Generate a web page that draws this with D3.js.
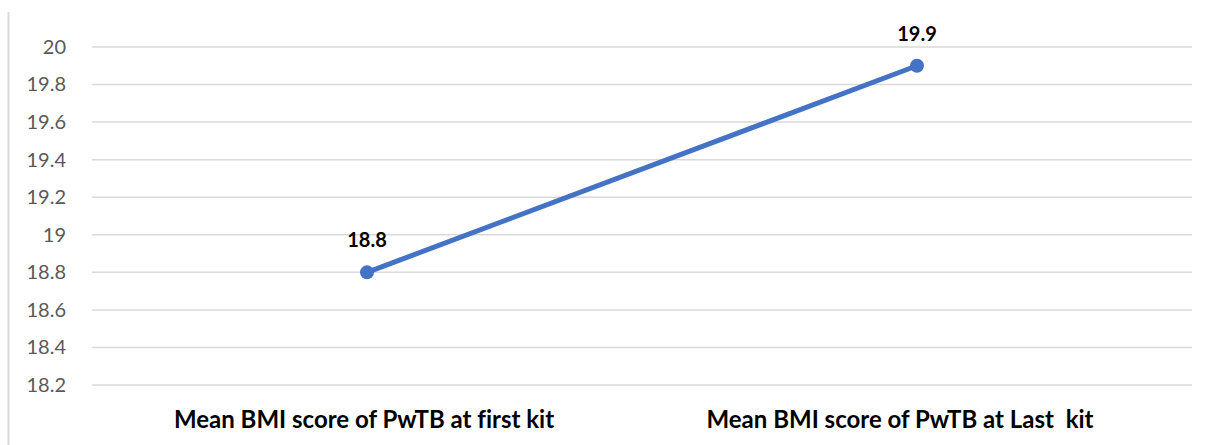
<!DOCTYPE html>
<html>
<head>
<meta charset="utf-8">
<script src="https://cdn.jsdelivr.net/npm/d3@7"></script>
<style>
  html, body { margin: 0; padding: 0; background: #fff; }
  svg { display: block; }
  text { font-variant-ligatures: none; }
</style>
</head>
<body>
<svg id="chart" width="1211" height="445"></svg>
<script>
// Mean BMI of people with TB, first vs last food kit
const categories = ["Mean BMI score of PwTB at first kit", "Mean BMI score of PwTB at Last  kit"];
const meanBMI = [18.8, 19.9];
const yTicks = [18.2, 18.4, 18.6, 18.8, 19, 19.2, 19.4, 19.6, 19.8, 20];

const svg = d3.select("#chart");
const W = 1211, H = 445;
const margin = { top: 47, right: 19, bottom: 60, left: 92 };
const font = "Lato, 'Open Sans', sans-serif";

const x = d3.scaleBand()
  .domain(categories)
  .range([margin.left, W - margin.right])
  .padding(0);

const y = d3.scaleLinear()
  .domain([18.2, 20])
  .range([H - margin.bottom, margin.top]);

// frame line on the left edge
svg.append("line")
  .attr("x1", 8.5).attr("x2", 8.5)
  .attr("y1", 12).attr("y2", H)
  .attr("stroke", "#d9d9d9").attr("stroke-width", 2);

// horizontal gridlines
svg.append("g")
  .selectAll("line")
  .data(yTicks)
  .join("line")
  .attr("x1", margin.left).attr("x2", W - margin.right)
  .attr("y1", d => y(d)).attr("y2", d => y(d))
  .attr("stroke", "#d9d9d9").attr("stroke-width", 1.5);

// y axis tick labels
const yAxis = d3.axisLeft(y)
  .tickValues(yTicks)
  .tickFormat(d => String(d))
  .tickSize(0)
  .tickPadding(0);
const gy = svg.append("g")
  .attr("transform", `translate(66,0)`)
  .call(yAxis);
gy.select(".domain").remove();
gy.selectAll("text")
  .attr("fill", "#595959")
  .style("font-family", font)
  .style("font-size", "20px");

// x axis category labels (trailing-space text sits slightly left of centre)
const xAxis = d3.axisBottom(x).tickSize(0).tickPadding(0);
const gx = svg.append("g")
  .attr("transform", `translate(0,${H - margin.bottom})`)
  .call(xAxis);
gx.select(".domain").remove();
gx.selectAll("text")
  .attr("y", 26)
  .attr("dx", (d, i) => i === 0 ? -3 : -17)
  .attr("fill", "#000")
  .style("white-space", "pre")
  .style("font-family", font)
  .style("font-weight", "bold")
  .style("font-size", "24px");

// series line
const pts = categories.map((c, i) => ({ c, v: meanBMI[i] }));
const line = d3.line()
  .x(d => x(d.c) + x.bandwidth() / 2)
  .y(d => y(d.v));

svg.append("path")
  .datum(pts)
  .attr("d", line)
  .attr("fill", "none")
  .attr("stroke", "#4472c4")
  .attr("stroke-width", 5)
  .attr("stroke-linecap", "round");

svg.append("g")
  .selectAll("circle")
  .data(pts)
  .join("circle")
  .attr("cx", d => x(d.c) + x.bandwidth() / 2)
  .attr("cy", d => y(d.v))
  .attr("r", 7)
  .attr("fill", "#4472c4");

// value labels
svg.append("g")
  .selectAll("text")
  .data(pts)
  .join("text")
  .attr("x", d => x(d.c) + x.bandwidth() / 2)
  .attr("y", d => y(d.v) - 25)
  .attr("text-anchor", "middle")
  .attr("fill", "#000")
  .style("font-family", font)
  .style("font-weight", "bold")
  .style("font-size", "20px")
  .text(d => d.v.toFixed(1));
</script>
</body>
</html>
